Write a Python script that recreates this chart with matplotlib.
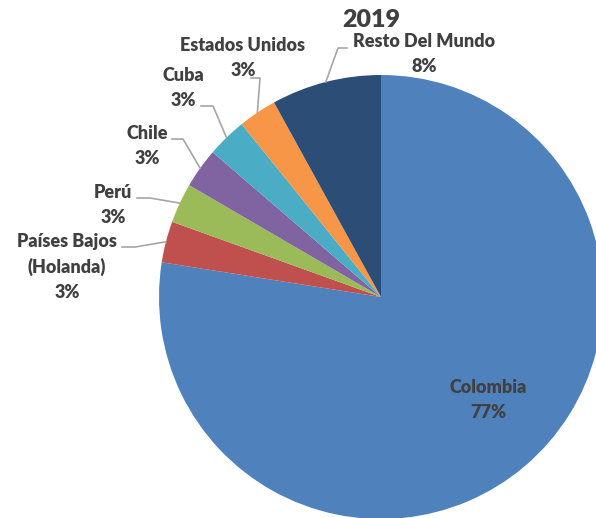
import numpy as np
import matplotlib.pyplot as plt

plt.rcParams['font.family'] = ['Lato', 'DejaVu Sans']

paises = ['Colombia', 'Países Bajos\n(Holanda)', 'Perú', 'Chile', 'Cuba', 'Estados Unidos', 'Resto Del Mundo']
valores = [77.5, 3.0, 2.9, 2.9, 2.9, 2.8, 8.0]
etiquetas = ['77%', '3%', '3%', '3%', '3%', '3%', '8%']
colores = ['#4F81BD', '#C0504D', '#9BBB59', '#8064A2', '#4BACC6', '#F79646', '#2C4D75']

W, H = 596, 518
fig = plt.figure(figsize=(W / 100, H / 100), dpi=100)
ax = fig.add_axes([0, 0, 1, 1])

cx, cy, r = 381, 297, 222
wedges, _ = ax.pie(valores, colors=colores, startangle=-90, counterclock=True,
                   center=(cx, cy), radius=r, frame=True,
                   wedgeprops=dict(linewidth=0))
ax.set_xlim(0, W)
ax.set_ylim(H, 0)
ax.axis('off')

txt = dict(fontsize=13, fontweight='heavy', color='#404040', ha='center', va='center')

# label centres (pixels) and elbow of each leader line
pos_lbl = [(488, 400), (67, 267), (113, 205), (147, 146), (183, 88), (243, 58), (424, 54)]
codo = [None, [(122, 247), (135, 247)], [(137, 198), (150, 198)], [(172, 139), (183, 139)],
        [(201, 106), (213, 106)], [(251, 78), (260, 78)], [(347, 48), (338, 48)]]

for i, w in enumerate(wedges):
    x, y = pos_lbl[i]
    ax.text(x, y, paises[i] + '\n' + etiquetas[i], linespacing=1.55, **txt)
    if codo[i] is None:
        continue
    ang = np.deg2rad((w.theta1 + w.theta2) / 2)
    px = cx + r * np.cos(ang)
    py = cy + r * np.sin(ang)
    xs = [codo[i][0][0], codo[i][1][0], px]
    ys = [codo[i][0][1], codo[i][1][1], py]
    ax.plot(xs, ys, color='#A6A6A6', lw=1.2, clip_on=False)

ax.text(371, 20, '2019', fontsize=18, fontweight='heavy', color='#404040',
        ha='center', va='center')

fig.savefig('out.png', dpi=100)
